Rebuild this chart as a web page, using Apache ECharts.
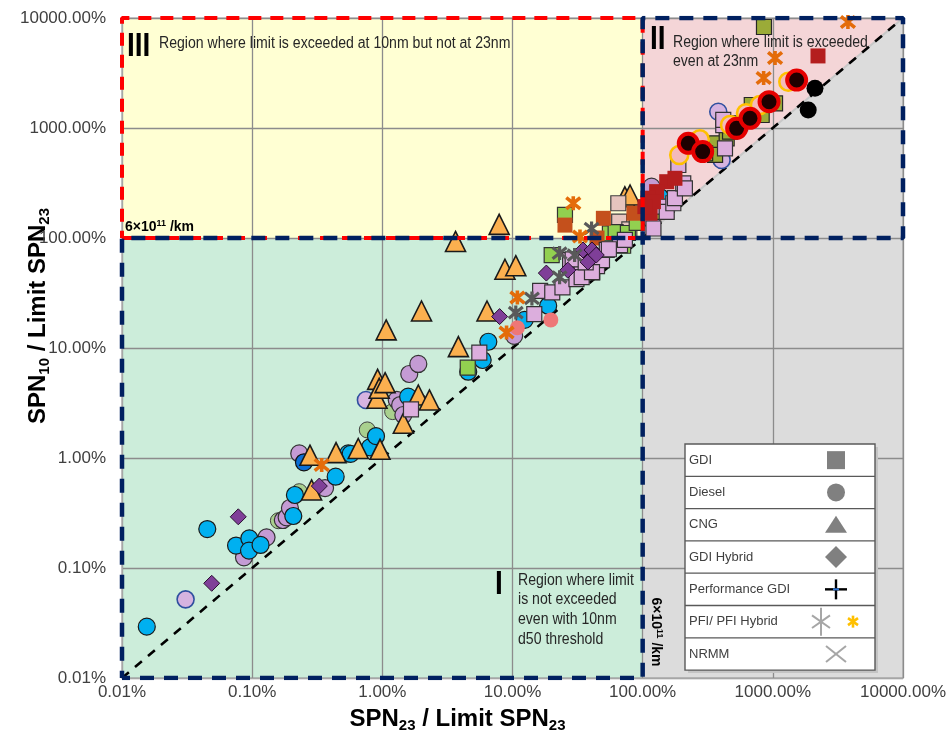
<!DOCTYPE html>
<html>
<head>
<meta charset="utf-8">
<script src="https://cdn.jsdelivr.net/npm/echarts@6/dist/echarts.min.js"></script>
<style>html,body{margin:0;padding:0;background:#fff}#chart{width:952px;height:740px}</style>
</head>
<body>
<div id="chart"></div>
<script>
// ---------- axis definition ----------
const AX_MIN = 0.01, AX_MAX = 10000;   // % of limit
const LIMIT = 100;                     // 6×10^11 /km = 100 % of limit

// ---------- data: [SPN23 / Limit SPN23 (%), SPN10 / Limit SPN23 (%)] ----------
// GDI (squares)
const gdiGreen  = [[25.3,162],[56,110],[62,113],[77,111],[90,137],[70.8,85],[20,70],[4.53,6.62]];
const gdiOlive  = [[330,653],[371,726],[442,806],[512,959],[560,1104],[708,1459],[821,1313],[1040,1676],[689,1618],[360,569],[302,589],[469,925],[136,173],[855,8280]];
const gdiLilac  = [[1.66,2.77],[5.56,9.06],[14.7,20.3],[16.3,33],[20.2,32],[24.2,35.5],[31,42.3],[41,48.6],[27.7,63],[34,57],[44.6,55.6],[48.7,63],[53,78],[34,44],[40.8,49],[67,86],[73,96],[29,64],[36.5,60],[55,79],[121,122],[140,193],[153,173],[172,207],[177,230],[205,314],[211,283],[188,461],[429,653],[416,1064],[416,1183]];
const gdiSalmon = [[65,207],[66,141],[79,120],[60,112]];
const gdiOrange = [[25.3,131],[49.9,151],[85.7,168],[44.6,100]];
const gdiRed    = [[110,207],[114,168],[153,325],[177,349],[128,264],[110,230],[121,214],[104,193],[2223,4520]];
// Diesel (circles)
const dieselCyan       = [[0.0155,0.0293],[0.0452,0.226],[0.0752,0.16],[0.0951,0.186],[0.0946,0.144],[0.116,0.162],[0.207,0.297],[0.213,0.461],[0.438,0.676],[0.547,1.10],[0.571,1.09],[0.803,1.25],[0.894,1.58],[1.58,3.61],[4.57,6.09],[5.9,7.78],[6.52,11.4],[12.4,18],[18.8,24.2],[136,236]];
const dieselBlue       = [[0.25,0.914]];
const dieselLilac      = [[0.0865,0.125],[0.129,0.19],[0.172,0.273],[0.184,0.289],[0.195,0.351],[0.363,0.533],[0.23,1.10],[1.29,3.37],[1.58,3.37],[1.37,3.03],[1.45,2.46],[1.61,5.8],[1.89,7.16],[10.3,12.9],[117,293],[117,146]];
const dieselLilacRing  = [[0.0308,0.0519],[0.748,3.37],[381,1406],[404,512]];
const dieselLightGreen = [[0.159,0.269],[0.23,0.494],[0.766,1.8],[1.2,2.64],[1.92,3.25]];
const dieselSalmon     = [[10.9,15.3],[19.7,18]];
const dieselBlackRed   = [[224,726],[289,610],[527,993],[668,1225],[935,1733],[1524,2730]];
const dieselYellowRing = [[191,569],[275,789],[469,1064],[622,1361],[796,1618],[1315,2636]];
const dieselBlack      = [[1870,1459],[2108,2296]];
// CNG (triangles)
const cng = [[0.278,1.06],[0.286,0.512],[0.441,1.12],[0.653,1.22],[0.96,1.2],[0.91,3.49],[0.92,5.19],[0.946,4.3],[1.05,4.84],[1.45,2.07],[1.89,3.74],[2.3,3.37],[1.07,14.6],[2.0,21.7],[3.84,10.3],[6.37,21.7],[8.75,52],[10.6,56],[3.65,93],[7.9,133],[73,237],[80,246]];
// GDI Hybrid (diamonds)
const gdiHybrid = [[0.0489,0.0726],[0.0782,0.292],[0.328,0.556],[7.96,19.3],[18.2,48],[26.6,51],[34.8,77.8],[40.8,77.8],[38,60.5],[44,70]];
// PFI / PFI Hybrid (asterisks)
const pfiOrange = [[0.342,0.864],[9.0,13.8],[10.9,28.8],[29.3,207],[33,103],[850,2850],[1040,4330],[3776,9204]];
const pfiGray   = [[10.6,21],[14.1,28.2],[23,44],[23,73],[30,70],[40.5,122]];

const legendNames = ['GDI','Diesel','CNG','GDI Hybrid','Performance GDI','PFI/ PFI Hybrid','NRMM'];

// ---------- styling ----------
const FONT = "'Liberation Sans', Arial, sans-serif";
const ASTERISK = 'path://M0,-10L0,10M-8,-8L8,8M-8,8L8,-8';

const G = {left:122, top:18, w:781, h:660};

function sc(name, data, symbol, size, color, border, bw, z) {
  return {
    type:'scatter', name, data, symbol, symbolSize:size, z: z || 3,
    itemStyle:{color, borderColor:border || color, borderWidth: bw || 0, opacity:1},
    emphasis:{disabled:true}, silent:true
  };
}

// region polygons (in axis values)
const bgRegions = [
  {fill:'#dcdcdc', pts:[[LIMIT,AX_MIN],[AX_MAX,AX_MIN],[AX_MAX,AX_MAX],[LIMIT,AX_MAX]]},
  {fill:'#f4d5d7', pts:[[LIMIT,LIMIT],[LIMIT,AX_MAX],[AX_MAX,AX_MAX]]},
  {fill:'#ccedda', pts:[[AX_MIN,AX_MIN],[LIMIT,AX_MIN],[LIMIT,LIMIT],[AX_MIN,LIMIT]]},
  {fill:'#ffffd3', pts:[[AX_MIN,LIMIT],[LIMIT,LIMIT],[LIMIT,AX_MAX],[AX_MIN,AX_MAX]]}
];

function box(x0,y0,x1,y1){ return [[x0,y0],[x1,y0],[x1,y1],[x0,y1],[x0,y0]]; }

function lineS(data, color, width, type, z, offset) {
  return {type:'line', data, symbol:'none', showSymbol:false, silent:true, z,
    lineStyle:{color, width, type, dashOffset: offset || 0}, emphasis:{disabled:true}, animation:false};
}

const titleRich = {
  b:{fontSize:24, fontWeight:'bold', fontFamily:FONT, color:'#000', lineHeight:28},
  s:{fontSize:15, fontWeight:'bold', fontFamily:FONT, color:'#000', lineHeight:13, verticalAlign:'bottom'}
};

const axisCommon = {
  type:'log', logBase:10, min:AX_MIN, max:AX_MAX, splitNumber:6, z:1,
  nameMoveOverlap:false,
  axisLine:{show:true, lineStyle:{color:'#a6a6a6', width:1}},
  axisTick:{show:false}, minorTick:{show:false},
  splitLine:{show:true, lineStyle:{color:'#8c8c8c', width:1.3}},
  axisLabel:{fontSize:17, color:'#404040', fontFamily:FONT, showMinLabel:true, showMaxLabel:true,
    formatter: v => Number(v).toFixed(2) + '%'}
};

const chart = echarts.init(document.getElementById('chart'), null, {renderer:'canvas'});

const series = [
  {type:'custom', name:'regions', silent:true, z:0, clip:false,
   data: bgRegions.map(r => r.pts[0]),
   renderItem:(params, api) => {
     const r = bgRegions[params.dataIndex];
     return {type:'polygon', shape:{points:r.pts.map(p => api.coord(p))}, style:{fill:r.fill}};
   }},
  lineS([[LIMIT,LIMIT],[AX_MAX,AX_MAX]], '#c8c8c8', 2, 'solid', 2),
  lineS([[AX_MIN,AX_MIN],[AX_MAX,AX_MAX]], '#000000', 2.6, [9,8], 2),

  sc('Diesel', dieselLightGreen, 'circle', 16, '#a9d08e', '#404040', 1),
  sc('Diesel', dieselLilac, 'circle', 17, '#c49bd4', '#333333', 1.2),
  sc('Diesel', dieselLilacRing, 'circle', 17, '#d6b3e0', '#2f4f9f', 1.6),
  sc('Diesel', dieselCyan, 'circle', 17, '#00b0f0', '#1a1a1a', 1.2),
  sc('Diesel', dieselBlue, 'circle', 17, '#0a6fd6', '#111111', 1.2),
  sc('Diesel', dieselSalmon, 'circle', 15, '#ee7777', '#ee7777', 0),
  sc('CNG', cng, 'triangle', 20, '#fbb04f', '#1a1a1a', 1.6),
  sc('GDI', gdiSalmon, 'rect', 15, '#e6c4be', '#404040', 1.2),
  sc('GDI', gdiGreen, 'rect', 15, '#92d050', '#333333', 1.2),
  sc('GDI', gdiOrange, 'rect', 15, '#c4501c', '#c4501c', 0),
  sc('GDI', gdiOlive, 'rect', 15, '#9bab38', '#262626', 1.2),
  sc('GDI', gdiLilac, 'rect', 15, '#dcaedd', '#333333', 1.2),
  sc('GDI', gdiRed, 'rect', 15, '#b41e1e', '#b41e1e', 0),
  sc('GDI Hybrid', gdiHybrid, 'diamond', 16, '#7f3f98', '#2a1030', 1),
  sc('Diesel', dieselYellowRing, 'circle', 18, '#f4baba', '#ffc000', 2.6),
  sc('Diesel', dieselBlackRed, 'circle', 19, '#1e0000', '#e60000', 4),
  sc('Diesel', dieselBlack, 'circle', 17, '#000000', '#000000', 0),
  sc('PFI/ PFI Hybrid', pfiGray, ASTERISK, 14, '#595959', '#595959', 3.2, 4),
  sc('PFI/ PFI Hybrid', pfiOrange, ASTERISK, 14, '#e46c0a', '#e46c0a', 3.6, 4),

  // region outlines
  lineS(box(AX_MIN,LIMIT,LIMIT,AX_MAX), '#ff0000', 4, [13,9], 8),
  lineS(box(AX_MIN,AX_MIN,LIMIT,LIMIT), '#002060', 4.5, [14,10], 8, 6),
  lineS(box(LIMIT,LIMIT,AX_MAX,AX_MAX), '#002060', 4.5, [14,10], 8, 6)
];

// legend table (drawn as graphics)
const LG = {x:685, y:444, w:190, rowH:32.3};
const legendEls = [];
legendEls.push({type:'rect', shape:{x:LG.x+3, y:LG.y+3, width:LG.w, height:LG.rowH*7}, style:{fill:'#c4c4c4'}, z:20});
legendEls.push({type:'rect', shape:{x:LG.x, y:LG.y, width:LG.w, height:LG.rowH*7}, style:{fill:'#ffffff', stroke:'#595959', lineWidth:1.4}, z:21});
legendNames.forEach((n,i) => {
  const cy = LG.y + LG.rowH*(i+0.5);
  if (i>0) legendEls.push({type:'line', shape:{x1:LG.x, y1:LG.y+LG.rowH*i, x2:LG.x+LG.w, y2:LG.y+LG.rowH*i}, style:{stroke:'#595959', lineWidth:1.3}, z:22});
  legendEls.push({type:'text', x:LG.x+4, y:cy, style:{text:n, font:'13px '+FONT, fill:'#404040', align:'left', verticalAlign:'middle'}, z:23});
});
const mx = 836, gy = i => LG.y + LG.rowH*(i+0.5), GR = '#808080', LGR = '#a6a6a6';
legendEls.push({type:'rect', shape:{x:mx-9, y:gy(0)-9, width:18, height:18}, style:{fill:GR}, z:23});
legendEls.push({type:'circle', shape:{cx:mx, cy:gy(1), r:9}, style:{fill:GR}, z:23});
legendEls.push({type:'polygon', shape:{points:[[mx-11,gy(2)+8],[mx+11,gy(2)+8],[mx,gy(2)-9]]}, style:{fill:GR}, z:23});
legendEls.push({type:'polygon', shape:{points:[[mx,gy(3)-11],[mx+11,gy(3)],[mx,gy(3)+11],[mx-11,gy(3)]]}, style:{fill:GR}, z:23});
legendEls.push({type:'line', shape:{x1:mx, y1:gy(4)-10, x2:mx, y2:gy(4)+10}, style:{stroke:'#000', lineWidth:2.4}, z:23});
legendEls.push({type:'line', shape:{x1:mx-11, y1:gy(4), x2:mx+11, y2:gy(4)}, style:{stroke:'#000', lineWidth:2.4}, z:23});
legendEls.push({type:'line', shape:{x1:mx-3, y1:gy(4), x2:mx+3, y2:gy(4)}, style:{stroke:'#2e75d6', lineWidth:2}, z:24});
[[821,14,9,LGR,2],[853,6,5,'#ffc000',2.6]].forEach(([cx,hv,hd,c,w]) => {
  const cyy = gy(5);
  legendEls.push({type:'line', shape:{x1:cx, y1:cyy-hv, x2:cx, y2:cyy+hv}, style:{stroke:c, lineWidth:w}, z:23});
  legendEls.push({type:'line', shape:{x1:cx-hd, y1:cyy-hd*0.7, x2:cx+hd, y2:cyy+hd*0.7}, style:{stroke:c, lineWidth:w}, z:23});
  legendEls.push({type:'line', shape:{x1:cx-hd, y1:cyy+hd*0.7, x2:cx+hd, y2:cyy-hd*0.7}, style:{stroke:c, lineWidth:w}, z:23});
});
legendEls.push({type:'line', shape:{x1:mx-10, y1:gy(6)-8, x2:mx+10, y2:gy(6)+8}, style:{stroke:LGR, lineWidth:2}, z:23});
legendEls.push({type:'line', shape:{x1:mx-10, y1:gy(6)+8, x2:mx+10, y2:gy(6)-8}, style:{stroke:LGR, lineWidth:2}, z:23});

// narrow-looking annotation text: regular font squeezed horizontally
const NARROW_SCALE = 0.88;
const txt = (x,y,text,font,extra,sx) => ({type:'text', x, y, z:30, silent:true, scaleX: sx || NARROW_SCALE,
  style:Object.assign({text, font, fill:'#262626', align:'left', verticalAlign:'middle'}, extra||{})});
const kmRich = {a:{fontSize:14, fontWeight:'bold', fontFamily:FONT, color:'#1a1a1a', lineHeight:16},
                s:{fontSize:9, fontWeight:'bold', fontFamily:FONT, color:'#1a1a1a', lineHeight:10, verticalAlign:'top'}};

const annotations = [
  txt(127, 47, 'III', 'bold 33px '+FONT, {fill:'#000'}, 0.85),
  txt(159, 44, 'Region where limit is exceeded at 10nm but not at 23nm', '16px '+FONT),
  txt(650, 40, 'II', 'bold 33px '+FONT, {fill:'#000'}, 0.85),
  txt(673, 43, 'Region where limit is exceeded', '16px '+FONT),
  txt(673, 62, 'even at 23nm', '16px '+FONT),
  txt(495, 585, 'I', 'bold 33px '+FONT, {fill:'#000'}, 0.85),
  txt(518, 581, 'Region where limit', '16px '+FONT),
  txt(518, 600, 'is not exceeded', '16px '+FONT),
  txt(518, 620, 'even with 10nm', '16px '+FONT),
  txt(518, 640, 'd50 threshold', '16px '+FONT),
  {type:'text', x:125, y:227, z:30, silent:true, style:{text:'{a|6×10}{s|11}{a| /km}', rich:kmRich, align:'left', verticalAlign:'middle'}},
  {type:'text', x:656, y:632, rotation:-Math.PI/2, z:30, silent:true, style:{text:'{a|6×10}{s|11}{a| /km}', rich:kmRich, align:'center', verticalAlign:'middle'}}
];

chart.setOption({
  animation:false,
  backgroundColor:'#ffffff',
  grid:{left:G.left, top:G.top, width:G.w, height:G.h, containLabel:false, outerBoundsMode:'none', show:true, borderColor:'#a6a6a6', borderWidth:1.2, z:1},
  xAxis:Object.assign({}, axisCommon, {
    name:'{b|SPN}{s|23}{b| / Limit SPN}{s|23}', nameLocation:'middle', nameGap:27,
    nameTextStyle:{rich:titleRich, padding:[0,110,0,0]},
    axisLabel:Object.assign({}, axisCommon.axisLabel, {margin:6})
  }),
  yAxis:Object.assign({}, axisCommon, {
    name:'{b|SPN}{s|10}{b| / Limit SPN}{s|23}', nameLocation:'middle', nameGap:70, nameRotate:90,
    nameTextStyle:{rich:titleRich, padding:[0,0,0,64]},
    axisLabel:Object.assign({}, axisCommon.axisLabel, {margin:16})
  }),
  series,
  graphic:{elements: legendEls.concat(annotations)}
});
</script>
</body>
</html>
